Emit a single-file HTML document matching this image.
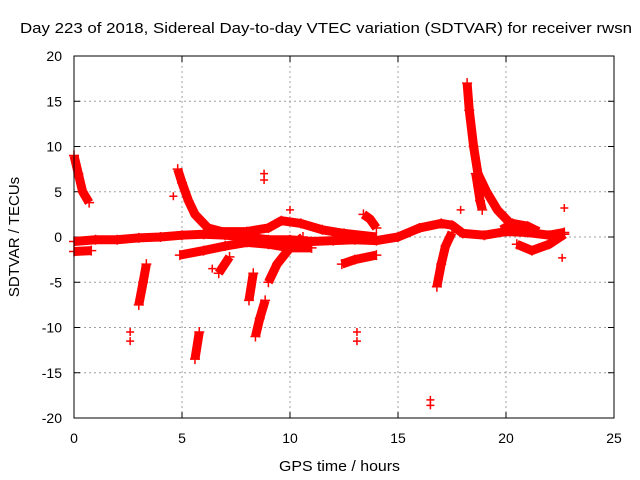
<!DOCTYPE html>
<html><head><meta charset="utf-8"><style>
html,body{margin:0;padding:0;background:#fff}
svg{display:block;font-family:"Liberation Sans",sans-serif}
</style></head><body>
<svg id="chart" width="640" height="480">
<text x="20" y="33" font-size="15" textLength="612" lengthAdjust="spacingAndGlyphs">Day 223 of 2018, Sidereal Day-to-day VTEC variation (SDTVAR) for receiver rwsn</text>
<text x="279" y="471" font-size="15" textLength="121" lengthAdjust="spacingAndGlyphs">GPS time / hours</text>
<text transform="translate(19,237) rotate(-90)" text-anchor="middle" font-size="15">SDTVAR / TECUs</text>
<g id="grid"></g><g id="ticks"></g><g id="marks"></g>
<rect x="74" y="56" width="540" height="362" fill="none" stroke="#000" stroke-width="1"/>
</svg>
<script>
const xTicks=[0,5,10,15,20,25];
const yTicks=[20,15,10,5,0,-5,-10,-15,-20];
const mainBand=[[0,-0.5],[1,-0.3],[2,-0.3],[3,-0.1],[4,0],[5,0.2],[6,0.3],[7,0.2],[8,0],[9,-0.3],[10,-0.3],[11,-0.5],[12,-0.4],[13,-0.3],[14,-0.4],[15,0],[16,1],[17,1.5],[17.5,1.3],[18,0.4],[19,0.2],[20,0.6],[21,0.5],[22,0.2],[22.7,0.5]];
const lowerBandA=[[0,-1.6],[0.8,-1.5]];
const lowerBandB=[[4.9,-2],[6,-1.5],[7,-1],[8,-0.6],[9,-0.8],[10,-1.2],[11,-1.2]];
const upperBranch=[[6.5,0.6],[8,0.6],[9,1],[9.6,1.8],[10.5,1.5],[11.5,0.8],[12.5,0.4],[14,0]];
const lowerRight=[[12.4,-3],[13,-2.5],[14,-2]];
const fanA=[[0,9],[0.2,7],[0.4,5],[0.7,3.8]];
const fanB=[[4.8,7.5],[5,6],[5.3,4],[5.6,2.5],[6.2,1],[7,0.5]];
const fanC=[[18.2,17],[18.3,14],[18.5,10],[18.7,7],[19.1,5],[19.6,3],[20.2,1.5],[21,1]];
const fanC2=[[18.6,7],[18.8,4],[18.9,3]];
const riseD=[[16.8,-5.5],[17,-3],[17.2,-1],[17.5,0.5]];
const riseE=[[3,-7.5],[3.2,-5],[3.35,-3]];
const riseF=[[5.6,-13.5],[5.8,-10.5]];
const riseG=[[8.1,-7],[8.3,-4]];
const riseG2=[[8.4,-11],[8.6,-9],[8.85,-7]];
const riseH=[[6.7,-4],[7.2,-2.2]];
const riseH2=[[9,-5],[9.4,-3],[10,-1.2],[10.6,0]];
const bumpI=[[13.4,2.5],[13.7,2],[14,1]];
const loopJ=[[20.5,-0.8],[21.2,-1.5],[22,-0.8],[22.7,0.3]];
const loopK=[[19.8,0.8],[20.3,1.5],[21,1.2],[21.5,0.6]];
const tracks=[mainBand,lowerBandA,lowerBandB,upperBranch,lowerRight,fanA,fanB,fanC,fanC2,riseD,riseE,riseF,riseG,riseG2,riseH,riseH2,bumpI,loopJ,loopK];
const isolated=[[2.6,-11.5],[2.6,-10.5],[4.6,4.5],[8.8,7],[8.8,6.3],[10,3],[13.1,-10.5],[13.1,-11.5],[16.5,-18],[16.5,-18.6],[17.9,3],[22.7,3.2],[22.6,-2.3],[6.4,-3.5]];
const X=h=>74+h*21.6, Y=v=>237-v*9.05;
const NS="http://www.w3.org/2000/svg";
function mk(t,a,p){const e=document.createElementNS(NS,t);for(const k in a)e.setAttribute(k,a[k]);p.appendChild(e);return e;}
const grid=document.getElementById('grid'),ticks=document.getElementById('ticks'),marks=document.getElementById('marks');
xTicks.forEach(t=>{
 if(t>0&&t<25){const g=mk('line',{x1:X(t),x2:X(t),y1:56,y2:418,stroke:'#a0a0a0','stroke-dasharray':'2,3'},grid);
 
 }
 mk('line',{x1:X(t),x2:X(t),y1:418,y2:412,stroke:'#000'},ticks);mk('line',{x1:X(t),x2:X(t),y1:56,y2:62,stroke:'#000'},ticks);
 const l=mk('text',{x:X(t),y:443,'text-anchor':'middle','font-size':14},ticks);l.textContent=t;
 
 
});
yTicks.forEach(t=>{
 if(t>-20&&t<20){const g=mk('line',{x1:74,x2:614,y1:Y(t),y2:Y(t),stroke:'#a0a0a0','stroke-dasharray':'2,3'},grid);
 
 }
 mk('line',{x1:74,x2:80,y1:Y(t),y2:Y(t),stroke:'#000'},ticks);mk('line',{x1:614,x2:608,y1:Y(t),y2:Y(t),stroke:'#000'},ticks);
 const l=mk('text',{x:62,y:Y(t)+5,'text-anchor':'end','font-size':14},ticks);l.textContent=t;
 
 
});
tracks.forEach(tr=>{
 const p=mk('polyline',{points:tr.map(d=>X(d[0])+','+Y(d[1])).join(' '),fill:'none',stroke:'#f00','stroke-width':9,'stroke-linejoin':'round','stroke-linecap':'butt'},marks);
 
 
 tr.forEach(d=>{const m=mk('path',{d:`M${X(d[0])-5},${Y(d[1])}h10M${X(d[0])},${Y(d[1])-5}v10`,stroke:'#f00','stroke-width':1.5},marks);
 
 });
});
isolated.forEach(d=>{
 const m=mk('path',{d:`M${X(d[0])-4},${Y(d[1])}h8M${X(d[0])},${Y(d[1])-4}v8`,stroke:'#f00','stroke-width':1.5},marks);
 
 
});
</script>
</body></html>
